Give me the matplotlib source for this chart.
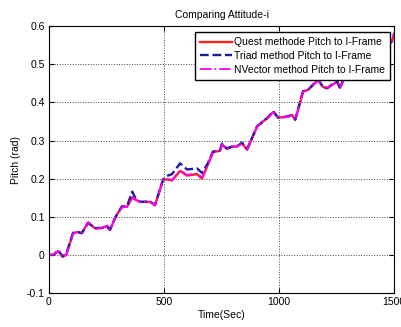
import numpy as np
from matplotlib import pyplot as plt

plt.rcParams['font.family'] = ['Liberation Sans', 'DejaVu Sans']
plt.rcParams['font.size'] = 7.5

# pitch angle estimates (rad) vs time (s)
t = [0, 20, 40, 60, 75, 105, 125, 143, 170, 200, 230, 252, 265, 290, 317,
     339, 362, 375, 396, 439, 461, 496, 513, 535, 570, 600, 643, 665, 690,
     713, 743, 752, 773, 795, 817, 839, 861, 904, 930, 952, 974, 996, 1035,
     1057, 1070, 1104, 1126, 1148, 1170, 1191, 1209, 1230, 1252, 1265, 1296,
     1330, 1380, 1430, 1470, 1490, 1500]

quest = [0.0, 0.0, 0.01, -0.005, 0.0, 0.057, 0.06, 0.057, 0.085, 0.07,
         0.07, 0.076, 0.065, 0.1, 0.126, 0.126, 0.15, 0.145, 0.139, 0.139,
         0.13, 0.197, 0.198, 0.195, 0.22, 0.208, 0.212, 0.2, 0.236, 0.27,
         0.273, 0.29, 0.278, 0.284, 0.284, 0.293, 0.276, 0.336, 0.35, 0.36,
         0.375, 0.36, 0.362, 0.367, 0.354, 0.428, 0.433, 0.446, 0.459, 0.44,
         0.438, 0.446, 0.454, 0.438, 0.485, 0.5, 0.51, 0.53, 0.55, 0.56, 0.58]

triad = [0.0, 0.0, 0.012, -0.004, 0.002, 0.058, 0.06, 0.057, 0.084, 0.07,
         0.071, 0.075, 0.066, 0.1, 0.127, 0.127, 0.166, 0.15, 0.139, 0.14,
         0.131, 0.198, 0.207, 0.212, 0.24, 0.224, 0.227, 0.215, 0.24, 0.271,
         0.273, 0.292, 0.279, 0.284, 0.285, 0.294, 0.277, 0.337, 0.35, 0.361,
         0.377, 0.36, 0.363, 0.367, 0.355, 0.429, 0.433, 0.447, 0.46, 0.44,
         0.437, 0.447, 0.455, 0.437, 0.485, 0.5, 0.51, 0.53, 0.55, 0.56, 0.58]

nvector = [0.0, 0.001, 0.01, -0.006, 0.0, 0.056, 0.06, 0.058, 0.085, 0.069,
           0.07, 0.077, 0.065, 0.1, 0.125, 0.126, 0.152, 0.146, 0.138, 0.139,
           0.13, 0.196, 0.199, 0.197, 0.222, 0.21, 0.213, 0.203, 0.237, 0.27,
           0.272, 0.29, 0.277, 0.285, 0.284, 0.292, 0.276, 0.335, 0.351, 0.36,
           0.374, 0.361, 0.362, 0.366, 0.354, 0.427, 0.434, 0.446, 0.458, 0.441,
           0.438, 0.445, 0.454, 0.439, 0.484, 0.5, 0.51, 0.53, 0.55, 0.562, 0.58]

xticks = [0, 500, 1000, 1500]
yticks = [-0.1, 0, 0.1, 0.2, 0.3, 0.4, 0.5, 0.6]

fig = plt.figure(figsize=(4.01, 3.27), dpi=100)
ax = fig.add_axes([0.122, 0.104, 0.861, 0.816])

ax.plot(t, quest, '-', color='#ff2020', lw=1.7, label='Quest methode Pitch to I-Frame')
ax.plot(t, triad, '--', color='#1a1aa0', lw=1.7, label='Triad method Pitch to I-Frame')
ax.plot(t, nvector, '-.', color='#ff00ff', lw=1.3, label='NVector method Pitch to I-Frame')

ax.set_xlim(0, 1500)
ax.set_ylim(-0.1, 0.6)
ax.set_xticks(xticks)
ax.set_yticks(yticks)
ax.set_yticklabels(['-0.1', '0', '0.1', '0.2', '0.3', '0.4', '0.5', '0.6'])
ax.tick_params(direction='in', top=True, right=True, length=3.5, pad=3)
ax.grid(True, linestyle=':', color='#444444', lw=0.7)

ax.set_title('Comparing Attitude-i', fontsize=7.5, pad=6)
ax.set_xlabel('Time(Sec)', labelpad=2)
ax.set_ylabel('Pitch (rad)', labelpad=4)

ax.legend(loc='upper right', bbox_to_anchor=(0.988, 0.978), borderaxespad=0,
          fancybox=False, edgecolor='k', framealpha=1, handlelength=3.0,
          handletextpad=0.2, labelspacing=0.35, borderpad=0.5)

plt.savefig('out.png', dpi=100)
